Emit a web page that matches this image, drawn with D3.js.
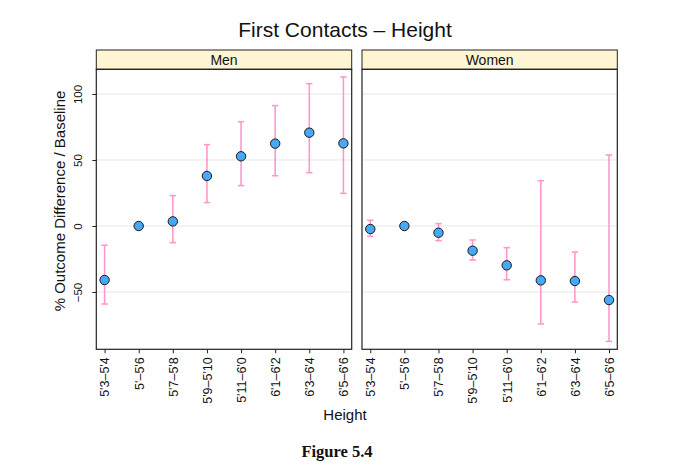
<!DOCTYPE html>
<html>
<head>
<meta charset="utf-8">
<script src="https://cdn.jsdelivr.net/npm/d3@7"></script>
<style>
  body { margin: 0; background: #fff; }
  text { font-family: "Liberation Sans", Arial, sans-serif; fill: #111; }
</style>
</head>
<body>
<svg id="chart" width="675" height="476"></svg>
<script>
const heights = ["5'3–5'4", "5'–5'6", "5'7–5'8", "5'9–5'10", "5'11–6'0", "6'1–6'2", "6'3–6'4", "6'5–6'6"];
const panels = ['Men', 'Women'];

// estimate, lower, upper (null = baseline, no bar)
const menEst   = [-40.9, 0, 3.5, 37.9, 52.8, 62.4, 70.7, 62.6];
const menLow   = [-59.1, null, -12.6, 17.7, 30.6, 38.1, 40.4, 24.7];
const menHigh  = [-14.6, null, 23.0, 61.6, 79.0, 91.2, 107.8, 112.9];

const womenEst  = [-2.3, 0, -5.1, -18.7, -29.8, -41.2, -41.7, -56.1];
const womenLow  = [-7.8, null, -11.1, -25.8, -40.7, -74.2, -57.6, -87.4];
const womenHigh = [4.3, null, 1.8, -10.6, -16.4, 34.3, -19.7, 53.8];

const yTicks = [-50, 0, 50, 100];

const svg = d3.select('#chart');
const pTop = 69.3, pBottom = 349.3;
const panelBox = { Men: [96.3, 351.7], Women: [362, 617.3] };

const y = d3.scaleLinear().domain([-93.4, 118.7]).range([pBottom, pTop]);

const rows = {
  Men: heights.map((h, i) => ({ h, est: menEst[i], lo: menLow[i], hi: menHigh[i] })),
  Women: heights.map((h, i) => ({ h, est: womenEst[i], lo: womenLow[i], hi: womenHigh[i] }))
};

svg.append('text')
  .attr('x', 345).attr('y', 37)
  .attr('text-anchor', 'middle')
  .style('font-size', '21px')
  .text('First Contacts – Height');

panels.forEach((p, pi) => {
  const [x0, x1] = panelBox[p];
  const x = d3.scalePoint().domain(heights).range([x0, x1]).padding(0.243);
  const g = svg.append('g').attr('class', 'panel');

  // strip
  g.append('rect')
    .attr('x', x0).attr('y', 50).attr('width', x1 - x0).attr('height', pTop - 50)
    .attr('fill', '#fff5d2').attr('stroke', '#222').attr('stroke-width', 1);
  g.append('text')
    .attr('x', (x0 + x1) / 2).attr('y', 64.5)
    .attr('text-anchor', 'middle')
    .style('font-size', '14px')
    .text(p);

  // grid
  g.selectAll('line.grid').data(yTicks).enter().append('line')
    .attr('class', 'grid')
    .attr('x1', x0).attr('x2', x1)
    .attr('y1', d => y(d)).attr('y2', d => y(d))
    .attr('stroke', '#e6e6e6').attr('stroke-width', 1);

  // error bars
  const bars = rows[p].filter(d => d.lo !== null);
  g.selectAll('line.err').data(bars).enter().append('line')
    .attr('class', 'err')
    .attr('x1', d => x(d.h)).attr('x2', d => x(d.h))
    .attr('y1', d => y(d.lo)).attr('y2', d => y(d.hi))
    .attr('stroke', '#ff99cc').attr('stroke-width', 1.6);
  ['lo', 'hi'].forEach(k => {
    g.selectAll('line.cap-' + k).data(bars).enter().append('line')
      .attr('class', 'cap-' + k)
      .attr('x1', d => x(d.h) - 3.2).attr('x2', d => x(d.h) + 3.2)
      .attr('y1', d => y(d[k])).attr('y2', d => y(d[k]))
      .attr('stroke', '#ff99cc').attr('stroke-width', 1.6);
  });

  // points
  g.selectAll('circle').data(rows[p]).enter().append('circle')
    .attr('cx', d => x(d.h)).attr('cy', d => y(d.est))
    .attr('r', 4.7)
    .attr('fill', '#47a8f5').attr('stroke', '#1a1a1a').attr('stroke-width', 1);

  // panel border
  g.append('rect')
    .attr('x', x0).attr('y', pTop).attr('width', x1 - x0).attr('height', pBottom - pTop)
    .attr('fill', 'none').attr('stroke', '#222').attr('stroke-width', 1.2);

  // x axis
  const xa = g.append('g')
    .attr('transform', `translate(0,${pBottom})`)
    .call(d3.axisBottom(x).tickSize(4).tickSizeOuter(0));
  xa.select('.domain').remove();
  xa.selectAll('line').attr('stroke', '#222');
  xa.selectAll('text')
    .attr('transform', 'rotate(-90)')
    .attr('x', -8).attr('y', 0).attr('dy', '0.35em')
    .attr('text-anchor', 'end')
    .style('font-size', '12.5px')
    .style('font-family', '"Liberation Sans", Arial, sans-serif')
    .attr('fill', '#111');

  if (pi === 0) {
    const ya = g.append('g')
      .attr('transform', `translate(${x0},0)`)
      .call(d3.axisLeft(y).tickValues(yTicks).tickSize(4).tickFormat(d => d < 0 ? '−' + Math.abs(d) : d));
    ya.select('.domain').remove();
    ya.selectAll('line').attr('stroke', '#222');
    ya.selectAll('text')
      .attr('transform', 'translate(-14,0) rotate(-90)')
      .attr('x', 0).attr('y', 0).attr('dy', 0)
      .attr('text-anchor', 'middle')
      .style('font-size', '11.5px')
      .style('font-family', '"Liberation Sans", Arial, sans-serif')
      .attr('fill', '#111');
  }
});

svg.append('text')
  .attr('transform', `translate(65,201) rotate(-90)`)
  .attr('text-anchor', 'middle')
  .style('font-size', '15px')
  .text('% Outcome Difference / Baseline');

svg.append('text')
  .attr('x', 345).attr('y', 420)
  .attr('text-anchor', 'middle')
  .style('font-size', '15px')
  .text('Height');

svg.append('text')
  .attr('x', 337).attr('y', 457)
  .attr('text-anchor', 'middle')
  .style('font-family', '"Liberation Serif", "Times New Roman", serif')
  .style('font-weight', 'bold')
  .style('font-size', '16.5px')
  .text('Figure 5.4');
</script>
</body>
</html>
